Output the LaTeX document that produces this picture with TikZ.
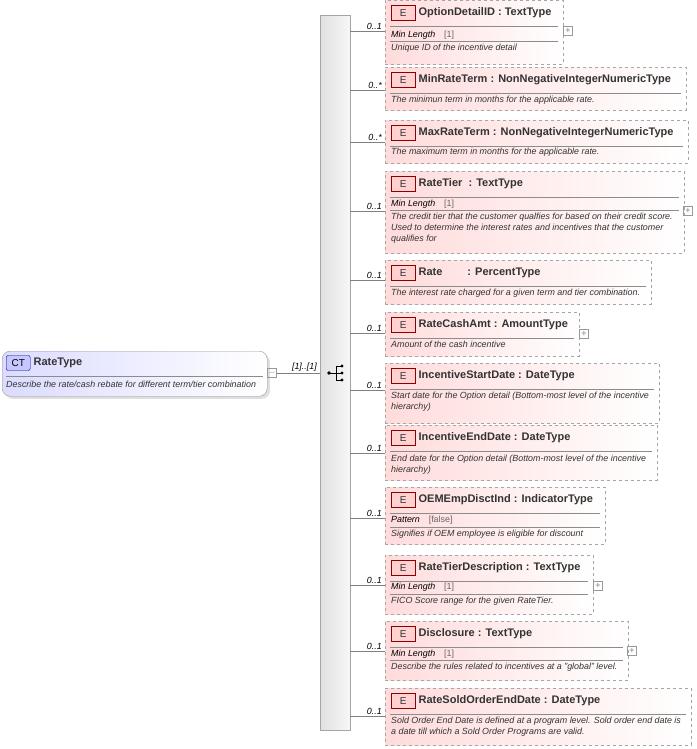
\documentclass[tikz,border=0pt]{standalone}
\usepackage{fontspec}
\setmainfont{Liberation Sans}
\usetikzlibrary{calc,shadows}

\tikzset{
  ebox/.style={draw=black!35,dashed,left color=red!14,right color=white,inner sep=0pt},
  badge/.style={draw=red!55!black,fill=red!18,font=\fontsize{10}{10}\selectfont,inner sep=1.5pt,minimum width=24pt,minimum height=15pt,text=black!80},
  etitle/.style={font=\bfseries\fontsize{11}{12}\selectfont,inner sep=3pt,text=black!80},
  desc/.style={font=\itshape\fontsize{8.9}{11}\selectfont,anchor=west,align=left,inner sep=0pt,text=black!80},
  facet/.style={font=\itshape\fontsize{8.9}{10}\selectfont,anchor=west,inner sep=0pt},
  sep/.style={draw=black!45,line width=0.5pt},
  mult/.style={font=\itshape\fontsize{8.9}{10}\selectfont,anchor=south east,inner sep=1pt},
  conn/.style={draw=black!50,line width=0.5pt},
  plus/.style={draw=black!40,minimum size=9pt,inner sep=0pt,font=\fontsize{9}{9}\selectfont,text=black!50}
}

% element box: name, top, bottom, right, title, connector y
\newcommand\elem[6]{%
  \node[ebox,anchor=north west,minimum width={(#4-385)*1pt},minimum height={(#3-#2)*1pt}] (#1) at (385,#2) {};
  \node[badge,anchor=west] (#1-e) at (391,#2+13) {E};
  \node[etitle,anchor=west] (#1-t) at (#1-e.east) {#5};
  \draw[sep] (390,#2+26) -- (#4-5,#2+26);
  \coordinate (#1-in) at (385,#6);
  \draw[conn] (seq.east |- #1-in) -- (#1-in);
}

\begin{document}
\begin{tikzpicture}[x=1pt,y=-1pt]
\useasboundingbox (0,0) rectangle (696,749);

% complex type
\node[draw=black!40,rounded corners=8pt,left color=blue!14,right color=white,drop shadow={opacity=0.25},
      anchor=north west,minimum width=265pt,minimum height=45pt] (ct) at (2,351) {};
\node[draw=blue!50!black,fill=blue!22,rounded corners=2pt,font=\fontsize{10}{10}\selectfont,inner sep=1.5pt,
      minimum width=24pt,minimum height=15pt,anchor=west] (ct-b) at (6,363) {CT};
\node[etitle,anchor=west] (ct-t) at (ct-b.east) {RateType};
\draw[sep] (6,376) -- (263,376);
\node[desc] (ct-d) at (6,384) {Describe the rate/cash rebate for different term/tier combination};
\node[plus] (ct-m) at (272,373) {$-$};

% sequence bar
\node[draw=black!35,left color=black!12,right color=black!3,anchor=north west,
      minimum width=30pt,minimum height=715pt,inner sep=0pt] (seq) at (320,15) {};
\draw[conn] (ct-m.east) -- (seq.west |- ct-m);
\node[mult] at (318,373) {[1]..[1]};
% sequence icon
\fill (329,373) circle (1.8pt);
\draw[line width=0.8pt] (329,373) -- (336,373) (336,366) -- (336,380)
  (336,366) -- (342,366) (336,373) -- (342,373) (336,380) -- (342,380);
\fill (342,366) circle (1.6pt) (342,373) circle (1.6pt) (342,380) circle (1.6pt);

% elements
\elem{odid}{0}{64}{563}{OptionDetailID : TextType}{31}
\node[mult] at (383,31) {0..1};
\node[facet] at (391,35) {Min Length\quad\textcolor{black!60}{\upshape[1]}};
\draw[sep] (390,41) -- (558,41);
\node[desc] at (391,48) {Unique ID of the incentive detail};
\node[plus] at (568,31) {+};

\elem{minrt}{67}{110}{686}{MinRateTerm : NonNegativeIntegerNumericType}{90}
\node[mult] at (383,90) {0..*};
\node[desc] at (391,100) {The minimun term in months for the applicable rate.};

\elem{maxrt}{120}{163}{688}{MaxRateTerm : NonNegativeIntegerNumericType}{142}
\node[mult] at (383,142) {0..*};
\node[desc] at (391,152) {The maximum term in months for the applicable rate.};

\elem{tier}{171}{253}{684}{RateTier \ : TextType}{211}
\node[mult] at (383,211) {0..1};
\node[facet] at (391,204) {Min Length\quad\textcolor{black!60}{\upshape[1]}};
\draw[sep] (390,210) -- (679,210);
\node[desc,anchor=north west] at (391,213) {The credit tier that the customer qualfies for based on their credit score.\\Used to determine the interest rates and incentives that the customer\\qualifies for};
\node[plus] at (688,211) {+};

\elem{rate}{260}{304}{651}{Rate \qquad : PercentType}{280}
\node[mult] at (383,280) {0..1};
\node[desc] at (391,293) {The interest rate charged for a given term and tier combination.};

\elem{cash}{312}{356}{579}{RateCashAmt : AmountType}{333}
\node[mult] at (383,333) {0..1};
\node[desc] at (391,344) {Amount of the cash incentive};
\node[plus] at (584,334) {+};

\elem{isd}{363}{423}{659}{IncentiveStartDate : DateType}{390}
\node[mult] at (383,390) {0..1};
\node[desc,anchor=north west] at (391,392) {Start date for the Option detail (Bottom-most level of the incentive\\hierarchy)};

\elem{ied}{425}{480}{657}{IncentiveEndDate : DateType}{453}
\node[mult] at (383,453) {0..1};
\node[desc,anchor=north west] at (391,455) {End date for the Option detail (Bottom-most level of the incentive\\hierarchy)};

\elem{oem}{487}{544}{605}{OEMEmpDisctInd : IndicatorType}{518}
\node[mult] at (383,518) {0..1};
\node[facet] at (391,520) {Pattern\quad\textcolor{black!60}{\upshape[false]}};
\draw[sep] (390,527) -- (600,527);
\node[desc] at (391,534) {Signifies if OEM employee is eligible for discount};

\elem{rtd}{555}{614}{593}{RateTierDescription : TextType}{585}
\node[mult] at (383,585) {0..1};
\node[facet] at (391,587) {Min Length\quad\textcolor{black!60}{\upshape[1]}};
\draw[sep] (390,594) -- (588,594);
\node[desc] at (391,601) {FICO Score range for the given RateTier.};
\node[plus] at (598,586) {+};

\elem{disc}{621}{680}{628}{Disclosure : TextType}{651}
\node[mult] at (383,651) {0..1};
\node[facet] at (391,654) {Min Length\quad\textcolor{black!60}{\upshape[1]}};
\draw[sep] (390,660) -- (623,660);
\node[desc] at (391,667) {Describe the rules related to incentives at a "global" level.};
\node[plus] at (632,651) {+};

\elem{rsoed}{688}{745}{691}{RateSoldOrderEndDate : DateType}{716}
\node[mult] at (383,716) {0..1};
\node[desc,anchor=north west] at (391,717) {Sold Order End Date is defined at a program level. Sold order end date is\\a date till which a Sold Order Programs are valid.};
\end{tikzpicture}
\end{document}
